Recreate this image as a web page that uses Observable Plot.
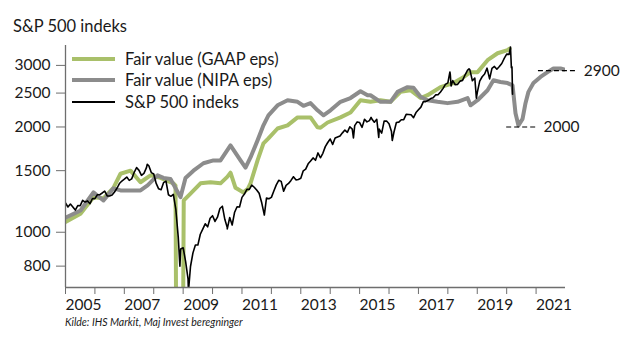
<!DOCTYPE html>
<html><head><meta charset="utf-8">
<script src="https://cdn.jsdelivr.net/npm/d3@7"></script>
<script src="https://cdn.jsdelivr.net/npm/@observablehq/plot@0.6"></script>
<style>
body{margin:0;background:#fff;}
#chart{position:relative;width:627px;height:338px;font-family:Lato,"Open Sans",sans-serif;}
</style></head><body><div id="chart"></div>
<script>
// S&P 500 month-end closes; element i sits at 2005 + i/12 (first = Dec 2004 close)
const spClose = [1212,
 1181,1204,1181,1157,1192,1191,1234,1220,1229,1207,1249,1248,
 1280,1281,1295,1311,1270,1270,1277,1304,1336,1378,1401,1418,
 1438,1407,1421,1482,1531,1503,1455,1474,1527,1549,1481,1468,
 1379,1331,1323,1386,1400,1280,1267,1283,1165,969,896,903,
 826,735,798,873,919,919,987,1021,1057,1036,1096,1115,
 1074,1104,1169,1187,1089,1031,1102,1049,1141,1183,1181,1258,
 1286,1327,1326,1364,1345,1321,1292,1219,1131,1253,1247,1258,
 1312,1366,1408,1398,1310,1362,1379,1407,1441,1412,1416,1426,
 1498,1515,1569,1598,1631,1606,1686,1633,1682,1757,1806,1848,
 1783,1859,1872,1884,1924,1960,1931,2003,1972,2018,2068,2059,
 1995,2105,2068,2086,2107,2063,2104,1972,1920,2079,2080,2044,
 1940,1932,2060,2065,2097,2099,2174,2171,2168,2126,2199,2239,
 2279,2364,2363,2384,2412,2423,2470,2472,2519,2575,2648,2674,
 2824,2714,2641,2648,2705,2718,2816,2902,2914,2712,2760,2507,
 2704,2784,2834,2946,2752,2942,2980,2926,2977,3038,3141,3231,
 3226];
// intramonth highs/lows of the S&P 500 visible in the chart
const spExtraX = [2007.78,2008.89,2009.18,2010.50,2011.76,2014.79,2015.39,2015.65,2016.11,2018.07,2018.11,2018.72,2018.97,2019.42,2020.13,2020.16,2020.18,2020.20];
const spExtraY = [1565,800,677,1022,1120,1862,2131,1867,1829,2873,2620,2931,2417,2744,3386,2954,2972,2480];

// Fair value (GAAP eps)
const gaapX = [2005.00,2005.51,2005.95,2006.29,2006.63,2006.87,2007.21,2007.55,2007.89,2008.23,2008.57,2008.67,2008.74,2008.76,2009.00,2009.02,2009.25,2009.59,2009.93,2010.27,2010.50,2010.61,2010.78,2011.05,2011.20,2011.29,2011.53,2011.73,2011.90,2012.21,2012.55,2012.89,2013.33,2013.57,2013.67,2013.91,2014.35,2014.69,2015.03,2015.37,2015.71,2016.05,2016.39,2016.73,2017.07,2017.31,2017.75,2018.19,2018.53,2018.77,2019.01,2019.35,2019.69,2020.03,2020.10];
const gaapY = [1070,1130,1260,1250,1340,1470,1500,1390,1454,1430,1390,1380,1360,600,600,1233,1290,1380,1390,1380,1440,1480,1340,1300,1330,1380,1605,1795,1855,1980,2022,2130,2130,1995,1990,2060,2130,2200,2385,2360,2385,2360,2520,2547,2420,2465,2600,2670,2775,2870,2870,3105,3250,3316,3350];

// Fair value (NIPA eps)
const nipaX = [2005.00,2005.51,2005.95,2006.29,2006.63,2006.87,2007.21,2007.55,2007.79,2008.13,2008.33,2008.57,2008.91,2009.08,2009.35,2009.69,2010.03,2010.27,2010.61,2010.95,2011.12,2011.29,2011.53,2011.73,2011.90,2012.21,2012.55,2012.89,2013.09,2013.33,2013.57,2013.77,2014.01,2014.35,2014.69,2015.03,2015.27,2015.37,2015.71,2016.05,2016.29,2016.63,2016.83,2017.07,2017.31,2017.65,2017.99,2018.33,2018.67,2018.77,2019.01,2019.35,2019.55,2019.79,2020.03,2020.20,2020.30,2020.40,2020.54,2020.64,2020.74,2020.91,2021.15,2021.39,2021.59,2021.83,2021.95];
const nipaY = [1100,1154,1300,1233,1335,1317,1317,1317,1361,1454,1430,1420,1260,1430,1500,1575,1605,1605,1772,1605,1530,1637,1831,2022,2160,2307,2385,2360,2300,2340,2232,2160,2232,2360,2420,2530,2465,2465,2360,2360,2520,2600,2590,2440,2385,2360,2340,2360,2420,2307,2385,2547,2721,2690,2670,2630,2190,2020,2110,2340,2520,2670,2780,2870,2940,2940,2920];

// annotations
const annValue = [2900, 2000];
const annFrom = [2021.08, 2020.0];
const annTo = [2022.42, 2021.05];
const annLabel = ["2900", "2000"];

const yTicks = [800, 1000, 1500, 2000, 2500, 3000];
const xTicks = d3.range(2005, 2022);
const xDomain = [2005, 2022];
const yDomain = [695, 3420];

const seriesNames = ["Fair value (GAAP eps)", "Fair value (NIPA eps)", "S&P 500 indeks"];
const seriesColors = ["#a9c06a", "#8c8c8c", "#000000"];
const titleText = "S&P 500 indeks";
const captionText = "Kilde: IHS Markit, Maj Invest beregninger";

const sp = spClose.map((v, i) => ({x: 2005 + i / 12, y: v}))
  .concat(spExtraX.map((x, i) => ({x, y: spExtraY[i]})))
  .sort((a, b) => a.x - b.x);
const gaap = gaapX.map((x, i) => ({x, y: gaapY[i]}));
const nipa = nipaX.map((x, i) => ({x, y: nipaY[i]}));
const ann = annValue.map((v, i) => ({value: v, from: annFrom[i], to: annTo[i], label: annLabel[i]}));

const axisColor = "#6e6e6e";
const plot = Plot.plot({
  width: 627, height: 338,
  marginTop: 45, marginBottom: 51, marginLeft: 65, marginRight: 62,
  style: {fontFamily: "Lato, 'Open Sans', sans-serif", color: "#1a1a1a", background: "#fff", overflow: "visible"},
  x: {domain: xDomain, axis: null},
  y: {type: "log", domain: yDomain, axis: null},
  marks: [
    Plot.line(gaap, {x: "x", y: "y", stroke: seriesColors[0], strokeWidth: 4, clip: true, strokeLinejoin: "round"}),
    Plot.line(nipa, {x: "x", y: "y", stroke: seriesColors[1], strokeWidth: 4, clip: true, strokeLinejoin: "round"}),
    Plot.line(sp, {x: "x", y: "y", stroke: seriesColors[2], strokeWidth: 1.6, clip: true, strokeLinejoin: "round"}),
    Plot.ruleY(ann, {y: "value", x1: "from", x2: "to", stroke: "#000", strokeWidth: 1.2, strokeDasharray: "5,3"}),
    Plot.text(ann, {x: "to", y: "value", text: "label", textAnchor: "start", dx: 6, fontSize: 15.5, fill: "#1a1a1a"}),
    Plot.ruleX([xDomain[0]], {stroke: axisColor, strokeWidth: 1.3}),
    Plot.ruleY([yDomain[0]], {stroke: axisColor, strokeWidth: 1.3}),
    Plot.axisY(yTicks, {anchor: "left", tickSize: 9, tickPadding: 6, fontSize: 15.5, stroke: axisColor, tickFormat: d => String(d)}),
    Plot.axisX(xTicks, {anchor: "bottom", tickSize: 7, tickPadding: 4, fontSize: 15.5, stroke: axisColor,
      textAnchor: "start", dx: 0, tickFormat: d => (d % 2 ? String(d) : "")})
  ]
});
document.getElementById("chart").appendChild(plot);

const svg = d3.select(plot);
svg.append("text").attr("x", 13).attr("y", 32).attr("text-anchor", "start")
  .attr("font-size", 16.5).attr("fill", "#1a1a1a").text(titleText);
const leg = svg.append("g").attr("text-anchor", "start");
const legY = [59, 80, 102];
const legW = [4, 4, 2];
seriesNames.forEach((name, i) => {
  leg.append("line").attr("x1", 72).attr("x2", 115).attr("y1", legY[i]).attr("y2", legY[i])
    .attr("stroke", seriesColors[i]).attr("stroke-width", legW[i]);
  leg.append("text").attr("x", 125).attr("y", legY[i]).attr("dy", "0.35em").attr("text-anchor", "start")
    .attr("font-size", 16.5).attr("fill", "#1a1a1a").text(name);
});
svg.append("text").attr("x", 65).attr("y", 326).attr("text-anchor", "start")
  .attr("font-size", 10.5).attr("font-style", "italic")
  .attr("fill", "#1a1a1a").text(captionText);
</script></body></html>
